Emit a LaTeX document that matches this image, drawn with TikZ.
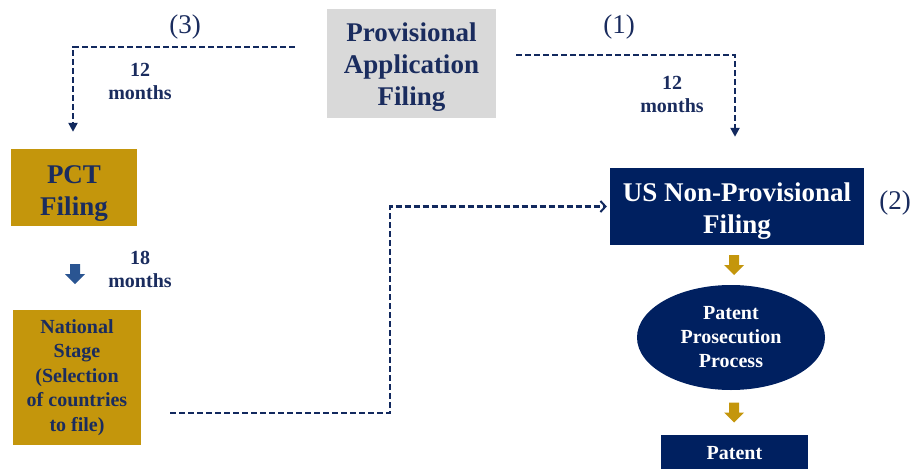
\documentclass[tikz,border=0pt]{standalone}
\usepackage{fontspec}
\setmainfont{Liberation Serif}
\usetikzlibrary{arrows.meta,shapes.geometric}
\definecolor{navy}{HTML}{002060}
\definecolor{navytext}{HTML}{1A2C5E}
\definecolor{gold}{HTML}{C4960C}
\definecolor{grayfill}{HTML}{D9D9D9}
\definecolor{stepblue}{HTML}{2A5592}
\definecolor{dashcol}{HTML}{12295E}
\begin{document}
\begin{tikzpicture}[x=1pt,y=-1pt,
  bigtext/.style={font=\bfseries\fontsize{27}{32}\selectfont},
  smalltext/.style={font=\bfseries\fontsize{20}{24}\selectfont},
  box/.style={inner sep=0pt, align=center, anchor=center},
  numlabel/.style={text=navytext, font=\fontsize{27}{32}\selectfont, inner sep=0pt},
  monthlabel/.style={text=navytext, align=center, inner sep=0pt, font=\bfseries\fontsize{20}{23}\selectfont},
  dline/.style={draw=dashcol, line width=2.3pt, dash pattern=on 6pt off 3pt},
  blockarrow/.pic={\fill (-5,-10) -- (5,-10) -- (5,0) -- (10,0) -- (0,10) -- (-10,0) -- (-5,0) -- cycle;}
]
\useasboundingbox (0,0) rectangle (914,469);

% boxes
\node[box, fill=grayfill, minimum width=169pt, minimum height=109pt] (prov) at (411.5,63.5) {};
\node[box, bigtext, text=navytext] (provtext) at ([yshift=-4pt]prov.center) {Provisional\\Application\\Filing};
\node[box, fill=gold, minimum width=126pt, minimum height=77pt] (pct) at (74,187.5) {};
\node[box, bigtext, text=navytext] (pcttext) at ([yshift=-6pt]pct.center) {PCT\\Filing};
\node[box, font=\bfseries\fontsize{20}{24.5}\selectfont, fill=gold, text=navytext, minimum width=128pt, minimum height=135pt] (nat) at (77,377.5) {National\\Stage\\(Selection\\of countries\\to file)};
\node[box, fill=navy, minimum width=254pt, minimum height=77pt] (us) at (737,206.5) {};
\node[box, bigtext, text=white] (ustext) at ([yshift=-5pt]us.center) {US Non-Provisional\\Filing};
\node[ellipse, inner sep=0pt, align=center, smalltext, fill=navy, text=white, minimum width=188pt, minimum height=105pt] (pros) at (731,337.5) {Patent\\Prosecution\\Process};
\node[box, smalltext, fill=navy, text=white, minimum width=147pt, minimum height=36pt] (patent) at (734.5,453) {Patent};

% labels
\node[numlabel] (n3) at (185,27) {(3)};
\node[numlabel] (n1) at (619,27) {(1)};
\node[numlabel] (n2) at (895,203) {(2)};
\node[monthlabel] (m1) at (140,81) {12\\months};
\node[monthlabel] (m2) at (672,94) {12\\months};
\node[monthlabel] (m3) at (140,269) {18\\months};

% dashed connectors
\draw[dline, -{Triangle[length=9pt,width=9pt]}] ([xshift=-32pt,yshift=16.5pt]prov.west) -| ([xshift=-1pt,yshift=17pt]pct.north);
\draw[dline, -{Triangle[length=9pt,width=9pt]}] ([xshift=20pt,yshift=8.5pt]prov.east) -| ([xshift=-2pt,yshift=31pt]us.north);
\coordinate (mid) at (390,300);
\draw[dline, -{Straight Barb[length=5pt,width=11pt,line width=2pt]}] ([xshift=29pt,yshift=-35.5pt]nat.east) -| (mid) |- ([xshift=-3pt]us.west);

% block arrows
\pic[stepblue] at (75,274) {blockarrow};
\pic[gold] at (734,265) {blockarrow};
\pic[gold] at (734,412.5) {blockarrow};
\end{tikzpicture}
\end{document}
